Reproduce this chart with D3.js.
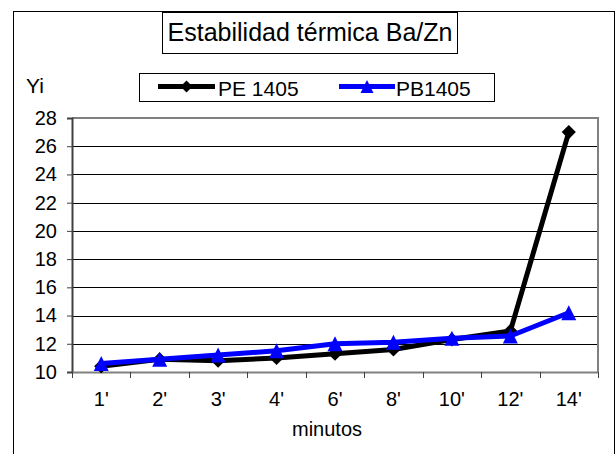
<!DOCTYPE html>
<html>
<head>
<meta charset="utf-8">
<script src="https://cdn.jsdelivr.net/npm/d3@7"></script>
<style>
  html, body { margin: 0; padding: 0; background: #fff; }
  svg { display: block; font-family: "Liberation Sans", Arial, sans-serif; }
</style>
</head>
<body>
<svg id="chart" width="616" height="454"></svg>
<script>
// Thermal stability of Ba/Zn stabilizer: Yi index over time
const categories = ["1'", "2'", "3'", "4'", "6'", "8'", "10'", "12'", "14'"];
const pe1405 = [10.4, 10.9, 10.8, 11.0, 11.3, 11.6, 12.3, 12.9, 27.0];
const pb1405 = [10.6, 10.9, 11.2, 11.5, 12.0, 12.1, 12.4, 12.55, 14.2];
const yTicks = [10, 12, 14, 16, 18, 20, 22, 24, 26, 28];
const titleText = "Estabilidad térmica Ba/Zn";
const yLabel = "Yi";
const xLabel = "minutos";

const FONT = "Liberation Sans, Arial, sans-serif";
const svg = d3.select("#chart");

// square-ish marker shapes
const diamond = {
  draw(ctx, size) {
    const r = Math.sqrt(size / 2);
    ctx.moveTo(0, -r); ctx.lineTo(r, 0); ctx.lineTo(0, r); ctx.lineTo(-r, 0); ctx.closePath();
  }
};
const triangle = {
  draw(ctx, size) {
    const h = Math.sqrt(size) / 2;
    ctx.moveTo(0, -h); ctx.lineTo(h, h); ctx.lineTo(-h, h); ctx.closePath();
  }
};

// outer chart frame
svg.append("rect")
  .attr("x", 13.5).attr("y", 11.5)
  .attr("width", 601).attr("height", 460)
  .attr("fill", "#fff").attr("stroke", "#000").attr("stroke-width", 1);

const plot = { left: 72, right: 598, top: 118, bottom: 372 };

const x = d3.scaleBand().domain(categories).range([plot.left, plot.right]);
const y = d3.scaleLinear().domain([10, 28]).range([plot.bottom, plot.top]);

// gridlines
svg.append("g").selectAll("line").data(yTicks.slice(1, -1)).join("line")
  .attr("x1", plot.left).attr("x2", plot.right)
  .attr("y1", d => Math.round(y(d)) + 0.5).attr("y2", d => Math.round(y(d)) + 0.5)
  .attr("stroke", "#000").attr("stroke-width", 1);

// plot area border (top and right)
svg.append("path")
  .attr("d", `M${plot.left},${plot.top}H${plot.right}V${plot.bottom}`)
  .attr("fill", "none").attr("stroke", "#808080").attr("stroke-width", 2);

// y axis
const yAxis = svg.append("g")
  .attr("transform", `translate(${plot.left},0)`)
  .call(d3.axisLeft(y).tickValues(yTicks).tickSize(5).tickPadding(10).tickFormat(d3.format("d")));
yAxis.select(".domain").attr("stroke", "#404040").attr("stroke-width", 2);
yAxis.selectAll(".tick line").attr("stroke", "#404040");
yAxis.selectAll("text").attr("font-size", 20).attr("fill", "#000").attr("font-family", FONT);

// x axis: ticks at category boundaries
const xAxis = svg.append("g")
  .attr("transform", `translate(0,${plot.bottom})`)
  .call(d3.axisBottom(x).tickSize(0).tickPadding(20));
xAxis.select(".domain").attr("stroke", "#808080").attr("stroke-width", 2);
xAxis.selectAll("text").attr("font-size", 20).attr("fill", "#000").attr("font-family", FONT);
const bounds = categories.map(c => x(c)).concat([x(categories[categories.length - 1]) + x.bandwidth()]);
svg.append("g").selectAll("line").data(bounds).join("line")
  .attr("x1", d => Math.round(d) + 0.5).attr("x2", d => Math.round(d) + 0.5)
  .attr("y1", plot.bottom).attr("y2", plot.bottom + 6)
  .attr("stroke", "#404040").attr("stroke-width", 1);

// axis titles
svg.append("text").attr("x", 26).attr("y", 93)
  .attr("font-size", 21).text(yLabel);
svg.append("text").attr("x", 327).attr("y", 436)
  .attr("text-anchor", "middle").attr("font-size", 20).text(xLabel);

// title box
svg.append("rect").attr("x", 162.5).attr("y", 12.5).attr("width", 295).attr("height", 41)
  .attr("fill", "#fff").attr("stroke", "#000");
svg.append("text").attr("x", 310).attr("y", 40.5)
  .attr("text-anchor", "middle").attr("font-size", 25).text(titleText);

// series
const cx = c => x(c) + x.bandwidth() / 2;
const series = [
  { name: "PE 1405", values: pe1405, color: "#000", marker: diamond, size: 100 },
  { name: "PB1405", values: pb1405, color: "#0000ff", marker: triangle, size: 225 }
];

const line = d3.line().x((d, i) => cx(categories[i])).y(d => y(d));

series.forEach(s => {
  svg.append("path").datum(s.values)
    .attr("d", line).attr("fill", "none")
    .attr("stroke", s.color).attr("stroke-width", 5).attr("stroke-linejoin", "round");
  svg.append("g").selectAll("path").data(s.values).join("path")
    .attr("transform", (d, i) => `translate(${cx(categories[i])},${y(d)})`)
    .attr("d", d3.symbol().type(s.marker).size(s.size))
    .attr("fill", s.color);
});

// legend
svg.append("rect").attr("x", 139.5).attr("y", 73.5).attr("width", 355).attr("height", 28)
  .attr("fill", "#fff").attr("stroke", "#000");
const legendItems = [
  { s: series[0], x0: 158, x1: 215, tx: 218 },
  { s: series[1], x0: 339, x1: 395, tx: 396 }
];
legendItems.forEach(l => {
  svg.append("line").attr("x1", l.x0).attr("x2", l.x1).attr("y1", 86.5).attr("y2", 86.5)
    .attr("stroke", l.s.color).attr("stroke-width", 5);
  svg.append("path").attr("transform", `translate(${(l.x0 + l.x1) / 2},86.5)`)
    .attr("d", d3.symbol().type(l.s.marker).size(l.s === series[0] ? 72 : 169)).attr("fill", l.s.color);
  svg.append("text").attr("x", l.tx).attr("y", 95.5).attr("font-size", 21).text(l.s.name);
});
</script>
</body>
</html>
